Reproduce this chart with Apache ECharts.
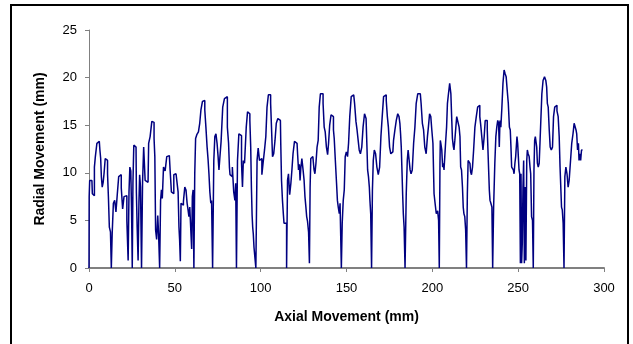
<!DOCTYPE html>
<html>
<head>
<meta charset="utf-8">
<script src="https://cdn.jsdelivr.net/npm/echarts@6/dist/echarts.min.js"></script>
<style>html,body{margin:0;padding:0;background:#fff}#c{width:633px;height:344px}</style>
</head>
<body>
<div id="c"></div>
<script>
// Axial movement (mm)
var axial = [
0,0.2,0.6,1.7,2.2,3,3.3,4.1,5.1,6,6.6,7,7.4,8,8.5,9,9.9,10.5,11.1,11.5,12.2,12.8,13.2,13.8,14.6,15.3,16.1,16.9,17.7,18.4,19.2,20,20.8,21.6,22.5,23.1,23.5,24.1,24.6,25,25.4,25.8,26.4,27.4,27.8,28.3,28.9,29.3,29.7,30.3,30.9,31.5,32.2,33.2,34.4,35.1,36.1,37.1,37.7,38.1,38.6,39,39.8,40.3,40.8,41.5,
41.9,42.5,42.9,43.9,44.8,45.8,46.8,47.7,48.3,49.1,49.7,50.7,51.6,52.2,52.6,53,53.4,53.8,54.5,55.5,56.1,56.9,57.4,58,58.4,59,59.6,60,60.4,60.9,61.3,61.9,62.3,63.3,64.2,64.8,65.6,66.6,67.2,67.7,68.5,69.1,69.7,70.1,70.7,71.2,71.6,72.4,
73,73.6,74.3,74.9,75.5,75.9,76.5,77.4,78.4,79.4,80.2,81,81.6,82,82.3,83.1,83.9,84.7,85.3,85.6,86.2,86.8,87.8,88.6,89.1,89.7,90.1,91.1,92.1,92.6,93.4,94,94.4,94.8,95.2,95.5,95.9,96.3,96.9,97.5,
98.3,98.8,99.8,100.4,101,101.8,102.7,103.3,104.1,104.9,105.6,106,106.6,107.2,108,108.7,109.5,110.5,111.5,111.9,112.4,113,113.4,113.8,114.4,114.8,115.4,115.9,116.5,117.3,117.9,118.5,119.2,120.2,121.2,121.8,122.3,
122.8,123.1,123.7,124.3,125.1,125.5,126.1,126.6,127,127.6,128.2,128.6,129,129.4,129.9,130.9,131.3,131.9,132.5,133.2,133.8,134.4,135.2,136,136.7,137.3,137.9,138.7,139.3,139.8,140.6,141.4,142.2,142.6,143.1,143.9,144.5,144.9,145.5,146.1,146.4,146.8,147.2,
147.8,148.4,149,149.5,150.3,150.9,151.5,152.3,153.2,154.2,155.2,155.8,156.5,157.1,157.7,158.5,159.3,160,161,161.8,162.1,162.5,163.1,163.5,163.8,164.4,164.8,
165.4,165.8,166.6,167.3,168.1,168.9,169.7,170.4,171.2,172,172.8,173.5,174.1,174.7,175.5,176.1,177,177.8,178.6,179.4,180.3,180.9,181.3,181.7,182.1,182.5,182.9,183.3,183.8,184.4,
185.2,185.6,186.2,186.8,187.3,187.9,188.7,189.5,190.2,191,192,193,193.9,194.5,195.3,195.9,196.9,197.4,198,198.8,199.4,200,200.7,201.3,201.9,202.7,203.5,203.8,
204.3,204.6,204.7,205.2,205.8,206.2,206.6,207,207.5,208.1,208.5,209.1,209.7,210.5,211.1,211.4,212,212.4,212.8,213.4,214,214.4,215.3,215.9,216.3,216.7,217.3,217.8,218.2,218.6,219.2,219.6,220.2,
220.6,221.1,221.7,222.1,222.5,223.1,223.7,224.4,225.2,226,226.8,227.4,227.9,228.5,229.1,229.9,230.5,231.1,231.8,232.2,232.6,233,233.4,233.8,234.4,235,235.3,
236.1,236.7,237.3,237.8,238.4,238.8,239.2,239.6,240.2,240.8,241.5,242.1,242.7,243.3,243.9,244.6,
245.2,245.6,246,246.4,247,247.4,247.8,248.4,248.7,249.1,249.5,249.9,250.3,250.7,251.1,251.5,251.8,252.2,252.6,253,253.4,253.8,254.2,254.8,255.2,255.5,256.1,256.7,257.1,257.5,258.1,258.6,259,
259.4,259.8,260.2,260.6,261,261.4,262,262.5,262.9,263.5,264.1,264.9,265.8,266.4,266.8,267.2,267.8,268.4,268.9,269.7,270.3,270.9,271.7,272.2,273,273.6,274.2,274.6,275,275.5,275.9,276.5,276.9,
277.5,278.1,278.8,279.4,280,280.8,281.6,282.3,282.9,283.5,283.9,284.3,284.9,285.3,285.6,286.2,286.6,287.2,287.8
];
// Radial movement (mm)
var radial = [
0,7.5,9.2,9.2,7.8,7.6,10.6,11.7,13.1,13.3,12.5,11.5,9.6,8.5,9,9.9,11.5,11.3,9.9,7.5,4.3,3.8,0,3.6,6.8,7.1,5.9,7.8,9.6,9.8,8.4,6.2,7.5,7.6,5,0.8,8,10.6,10.2,6,0,9,12.9,12.7,8,4.3,0.8,7,9.8,8.5,0,9,12.7,9.2,9,13.1,13.8,15.4,15.3,13.6,11.7,4,3,5.5,3.5,0,
7.1,8.2,7.3,10.6,10.2,11.7,11.8,10.3,8,7.8,9.8,9.9,9.8,8,4.3,2.9,0.7,6.8,6.6,7,8.5,8.2,6.8,6.1,5.4,6.4,6.2,2,7.5,8.2,0,9.9,13.6,14,14.3,15.2,16.6,17.5,17.6,16.6,14.8,12.7,11.3,9.8,8,6.8,7.1,0,
11.3,13.8,14.1,13.1,11.7,10.3,11.5,13.3,16.9,17.8,18,14.8,13.1,10.6,9.8,9.6,10.6,8,7.1,8.9,0,11.3,14.1,13.9,11,8.5,11.3,11,14.8,16.4,16.2,15.5,12.7,8.5,5.6,4.3,3.6,2.2,1.2,0,
11.3,12.6,11.3,11.5,9.8,11,12.4,13.8,16.9,18.2,18.2,17.3,14.8,11.7,12,13.4,15.2,15.7,15.5,13.1,9.2,7.1,5.7,4.7,4.9,4.7,0,9.2,9.9,7.7,8.9,10.3,12,13.3,13.1,12,10.3,
10.9,9.2,10.5,11.5,10.3,9.2,7.5,6.4,5.4,4.9,3.8,0.5,8.5,11.5,11.7,11.5,10.3,9.9,11,12.7,13.4,16.9,18.3,18.3,17.3,14.8,14.3,12.7,11.9,13.1,15,16.1,15.9,14.5,13.6,11.3,8.9,7.1,6.4,5.7,6.8,3.6,0,
4.7,7.1,8.2,11.7,12.2,11.7,13.1,15.9,18,18.2,17.3,15.4,14.5,13.4,12.4,12,12.7,14.8,16.2,15.7,12.5,10.3,9.6,8.5,7.1,5.7,0,
8.2,11.3,12.4,12,10.6,9.8,10.6,13.8,15.9,18,18.2,17.6,15.9,14.8,12.7,12,12.2,13.4,14.5,15.5,16.2,15.9,15.2,14.1,12.7,10.3,7.8,5.7,4.3,0,
7.8,11.3,12.4,12.2,10.3,9.9,10.3,13.1,14.8,17.3,18.3,18.3,17.3,15.2,14.5,12.7,12,13.8,14.8,16.2,15.9,14.5,13.1,7.8,6.8,5.7,6,5,
0,11,13.4,13.1,12.4,10.6,11,10.3,11.7,13.4,14.8,17.3,18.3,19.4,18.3,15.9,13.6,12.8,12.4,13.4,14.8,15.9,16.1,14.8,13.8,10.6,10.3,8.5,6.4,5.7,5.4,4,0,
7.8,11.3,11.5,11,10.1,9.8,10.6,12.4,14.8,15.9,16.9,17.1,15.9,15,13.8,12.4,13.8,15.5,15.5,14.5,12.4,10.3,8.2,7.1,6.8,6.4,0,
6.4,11,13.8,14.8,15.5,15.2,12.7,15.5,14.8,16.8,19.4,20.8,20.4,20.1,18.7,17.3,
14.8,14.5,12.7,10.6,10.6,10.3,9.9,11,11.7,12.7,13.8,13.1,11.7,10.3,9.9,0.5,9.9,0.5,2.6,8.5,11.3,0.5,8.5,0.8,11.3,12.4,12,11.7,10.6,9.9,5.4,5,0,
10.3,13.4,13.8,13.6,12.7,11,10.6,11,13.1,15.5,18.3,19.7,20.1,19.7,19,17.3,16.9,14.5,12.7,12.4,12.7,15.9,16.9,17.1,16.5,15.9,13.8,10.6,10.6,6.4,6.1,4.7,0,
9.6,10.6,9.9,8.5,9.2,11,13.1,14.1,15.2,15,14.5,14.1,12.4,13.1,11.3,12,11.3,12.4,12.4
];
var xTicks = [0, 50, 100, 150, 200, 250, 300];
var yTicks = [0, 5, 10, 15, 20, 25];

var pts = [];
for (var i = 0; i < Math.min(axial.length, radial.length); i++) pts.push([axial[i], radial[i]]);

var chart = echarts.init(document.getElementById('c'), null, {renderer: 'canvas'});
var font = 'Liberation Sans, Arial, sans-serif';
chart.setOption({
  animation: false,
  backgroundColor: '#fff',
  grid: {left: 89, right: 29, top: 30, bottom: 76, containLabel: false, outerBoundsMode: 'none'},
  xAxis: {
    type: 'value', min: xTicks[0], max: xTicks[xTicks.length - 1], interval: 50,
    name: 'Axial Movement (mm)', nameLocation: 'middle', nameGap: 42,
    nameTextStyle: {fontFamily: font, fontSize: 14, fontWeight: 'bold', color: '#000'},
    axisLine: {show: true, lineStyle: {color: '#808080', width: 2}},
    axisTick: {show: true, length: 4, lineStyle: {color: '#808080', width: 1}},
    axisLabel: {fontFamily: font, fontSize: 13, color: '#000', margin: 14},
    splitLine: {show: false}
  },
  yAxis: {
    type: 'value', min: yTicks[0], max: yTicks[yTicks.length - 1], interval: 5,
    name: 'Radial Movement (mm)', nameLocation: 'middle', nameGap: 42, nameRotate: 90,
    nameTextStyle: {fontFamily: font, fontSize: 14, fontWeight: 'bold', color: '#000'},
    axisLine: {show: true, lineStyle: {color: '#808080', width: 1}},
    axisTick: {show: true, length: 4, lineStyle: {color: '#808080', width: 1}},
    axisLabel: {fontFamily: font, fontSize: 13, color: '#000', margin: 12},
    splitLine: {show: false}
  },
  graphic: [{
    type: 'rect', z: -1, silent: true,
    shape: {x: 11, y: 5, width: 617, height: 345},
    style: {fill: 'none', stroke: '#000', lineWidth: 2}
  }],
  series: [{
    type: 'line', data: pts, symbol: 'none', smooth: false, step: 'middle',
    lineStyle: {color: '#000080', width: 1.5},
    clip: true
  }]
});
</script>
</body>
</html>
